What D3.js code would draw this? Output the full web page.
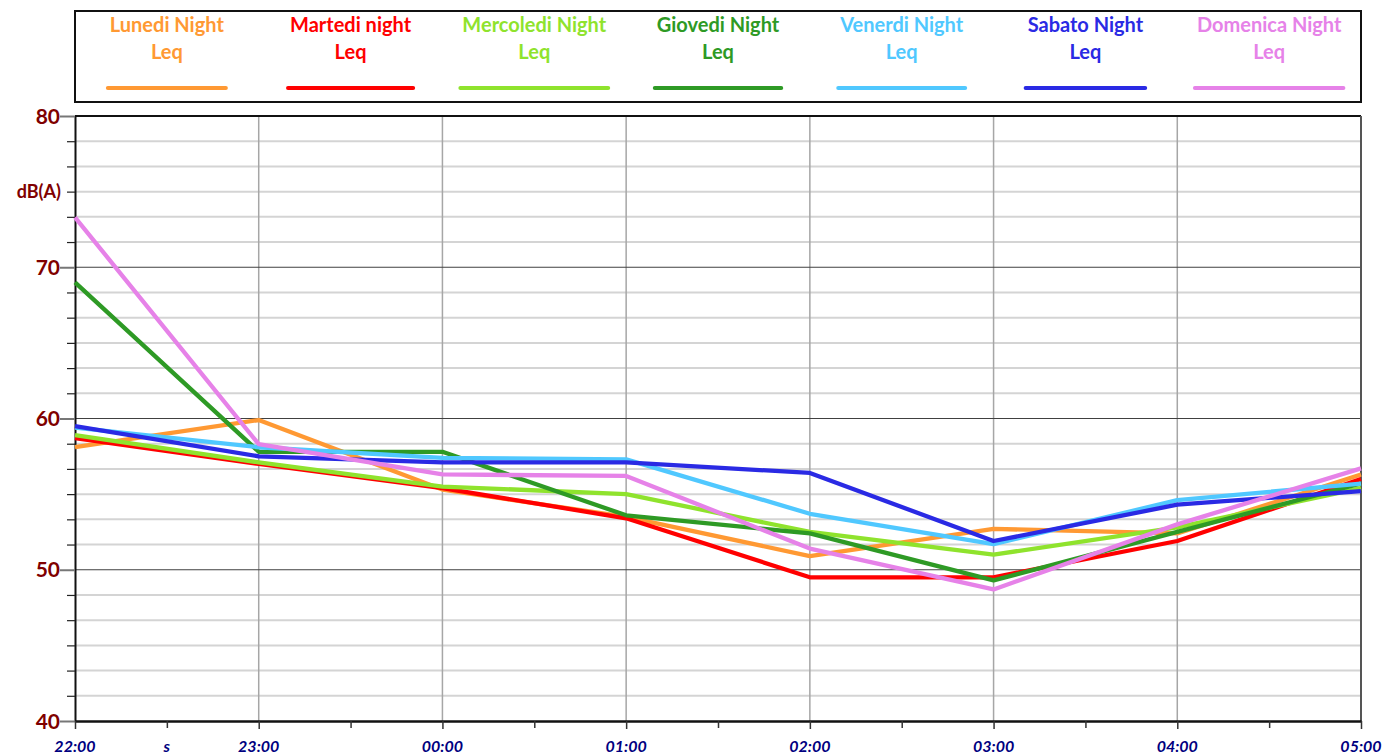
<!DOCTYPE html>
<html>
<head>
<meta charset="utf-8">
<script src="https://cdn.jsdelivr.net/npm/d3@7"></script>
<style>
  body { margin: 0; background: #fff; }
  svg { display: block; font-family: Lato, "Noto Sans", sans-serif; }
</style>
</head>
<body>
<div id="chart"></div>
<script>
// Dati (Leq notturno, dB(A))
const hours = ["22:00", "23:00", "00:00", "01:00", "02:00", "03:00", "04:00", "05:00"];
const xTickLabels = ["22:00", "s", "23:00", "", "00:00", "", "01:00", "", "02:00", "", "03:00", "", "04:00", "", "05:00"];
const yTickLabels = ["40", "50", "60", "70", "80"];

const seriesNames = [
  ["Lunedi Night", "Leq"],
  ["Martedi night", "Leq"],
  ["Mercoledi Night", "Leq"],
  ["Giovedi Night", "Leq"],
  ["Venerdi Night", "Leq"],
  ["Sabato Night", "Leq"],
  ["Domenica Night", "Leq"]
];
const seriesColors = ["#ff9933", "#ff0000", "#8fe32d", "#2e9a25", "#50c8ff", "#2a2ae4", "#e682e8"];

const lunedi    = [58.1, 59.9, 55.3, 53.5, 50.9, 52.7, 52.4, 56.3];
const martedi   = [58.7, 57.0, 55.4, 53.4, 49.5, 49.5, 51.9, 56.0];
const mercoledi = [58.9, 57.1, 55.5, 55.0, 52.5, 51.0, 52.8, 55.4];
const giovedi   = [69.0, 57.8, 57.8, 53.6, 52.4, 49.3, 52.5, 55.7];
const venerdi   = [59.4, 58.1, 57.4, 57.3, 53.7, 51.7, 54.6, 55.7];
const sabato    = [59.5, 57.5, 57.1, 57.1, 56.4, 51.9, 54.3, 55.2];
const domenica  = [73.3, 58.3, 56.3, 56.2, 51.4, 48.7, 53.0, 56.7];
const allSeries = [lunedi, martedi, mercoledi, giovedi, venerdi, sabato, domenica];

const width = 1383, height = 756;
const margin = { top: 116, right: 22, bottom: 35, left: 75 };
const plotW = width - margin.left - margin.right;
const plotH = height - margin.top - margin.bottom;

const svg = d3.select("#chart").append("svg")
  .attr("width", width)
  .attr("height", height);

// Scale
const x = d3.scaleLinear().domain([0, hours.length - 1]).range([margin.left, margin.left + plotW]);
const y = d3.scaleLinear().domain([40, 80]).range([margin.top + plotH, margin.top]);

// 6 suddivisioni per ogni 10 dB
const yTicksAll = d3.range(0, 25).map(i => 40 + i * 10 / 6);
const isMajor = v => Math.abs(v - Math.round(v / 10) * 10) < 1e-6;
const minorY = yTicksAll.filter(v => !isMajor(v));

// Griglia orizzontale minore
svg.append("g").selectAll("line")
  .data(minorY).enter().append("line")
  .attr("x1", x(0)).attr("x2", x(7))
  .attr("y1", d => y(d)).attr("y2", d => y(d))
  .attr("stroke", "#d4d4d4").attr("stroke-width", 2);

// Griglia verticale (ogni ora)
svg.append("g").selectAll("line")
  .data(d3.range(1, hours.length - 1)).enter().append("line")
  .attr("x1", d => x(d)).attr("x2", d => x(d))
  .attr("y1", y(80)).attr("y2", y(40))
  .attr("stroke", "#a6a6a6").attr("stroke-width", 1.5);

// Griglia orizzontale principale
svg.append("g").selectAll("line")
  .data([50, 60, 70]).enter().append("line")
  .attr("x1", x(0)).attr("x2", x(7))
  .attr("y1", d => y(d)).attr("y2", d => y(d))
  .attr("stroke", "#404040").attr("stroke-width", 1.2);

// Bordo area grafico
svg.append("line").attr("x1", x(0)).attr("x2", x(7)).attr("y1", y(80)).attr("y2", y(80))
  .attr("stroke", "#111").attr("stroke-width", 2);
svg.append("line").attr("x1", x(7)).attr("x2", x(7)).attr("y1", y(80)).attr("y2", y(40))
  .attr("stroke", "#555").attr("stroke-width", 2);

// Asse Y
const yAxis = svg.append("g")
  .attr("transform", `translate(${margin.left},0)`)
  .call(d3.axisLeft(y).tickValues(yTicksAll).tickSize(0).tickFormat(""));
yAxis.select(".domain").attr("stroke", "#111").attr("stroke-width", 2);
yAxis.selectAll(".tick line")
  .attr("x2", d => isMajor(d) ? -15 : -8)
  .attr("stroke", d => isMajor(d) ? "#777" : "#222")
  .attr("stroke-width", d => isMajor(d) ? 2 : 1.2);

svg.append("g").selectAll("text")
  .data(yTickLabels).enter().append("text")
  .attr("x", margin.left - 15)
  .attr("y", d => y(+d))
  .attr("dy", "0.36em")
  .attr("text-anchor", "end")
  .style("font-size", "21px")
  .style("font-weight", "bold")
  .style("fill", "#7f0000")
  .text(d => d);

svg.append("text")
  .attr("x", margin.left - 14)
  .attr("y", y(75))
  .attr("dy", "0.36em")
  .attr("text-anchor", "end")
  .style("font-size", "18px")
  .style("font-weight", "bold")
  .style("fill", "#7f0000")
  .text("dB(A)");

// Asse X
const xAxis = svg.append("g")
  .attr("transform", `translate(0,${y(40)})`)
  .call(d3.axisBottom(x).tickValues(d3.range(0, 7.01, 0.5)).tickSize(0).tickFormat(""));
xAxis.select(".domain").attr("stroke", "#111").attr("stroke-width", 2.5);
xAxis.selectAll(".tick line")
  .attr("y2", d => d % 1 === 0 ? 8 : 7)
  .attr("stroke", "#333").attr("stroke-width", 1.5);

svg.append("g").selectAll("text")
  .data(xTickLabels).enter().append("text")
  .attr("x", (d, i) => x(i / 2))
  .attr("y", 752)
  .attr("text-anchor", "middle")
  .style("font-size", "16px")
  .style("font-weight", "bold")
  .style("font-style", "italic")
  .style("fill", "#000080")
  .text(d => d);

// Linee delle serie
const line = d3.line()
  .x((d, i) => x(i))
  .y(d => y(d));

svg.append("g").selectAll("path")
  .data(allSeries).enter().append("path")
  .attr("d", line)
  .attr("fill", "none")
  .attr("stroke", (d, i) => seriesColors[i])
  .attr("stroke-width", 4.3)
  .attr("stroke-linejoin", "round");

// Legenda
const legend = svg.append("g");
legend.append("rect")
  .attr("x", margin.left).attr("y", 11)
  .attr("width", plotW).attr("height", 91)
  .attr("fill", "#fff").attr("stroke", "#111").attr("stroke-width", 2);

const slot = plotW / seriesNames.length;
seriesNames.forEach((name, i) => {
  const cx = margin.left + slot * (i + 0.5);
  const g = legend.append("g");
  const t1 = g.append("text")
    .attr("x", cx).attr("y", 32)
    .attr("text-anchor", "middle")
    .style("font-size", "20px").style("font-weight", "bold")
    .style("fill", seriesColors[i])
    .text(name[0]);
  g.append("text")
    .attr("x", cx).attr("y", 59)
    .attr("text-anchor", "middle")
    .style("font-size", "20px").style("font-weight", "bold")
    .style("fill", seriesColors[i])
    .text(name[1]);
  const w = t1.node().getComputedTextLength() + 4;
  g.append("line")
    .attr("x1", cx - w / 2).attr("x2", cx + w / 2)
    .attr("y1", 88).attr("y2", 88)
    .attr("stroke", seriesColors[i])
    .attr("stroke-width", 4)
    .attr("stroke-linecap", "round");
});
</script>
</body>
</html>
